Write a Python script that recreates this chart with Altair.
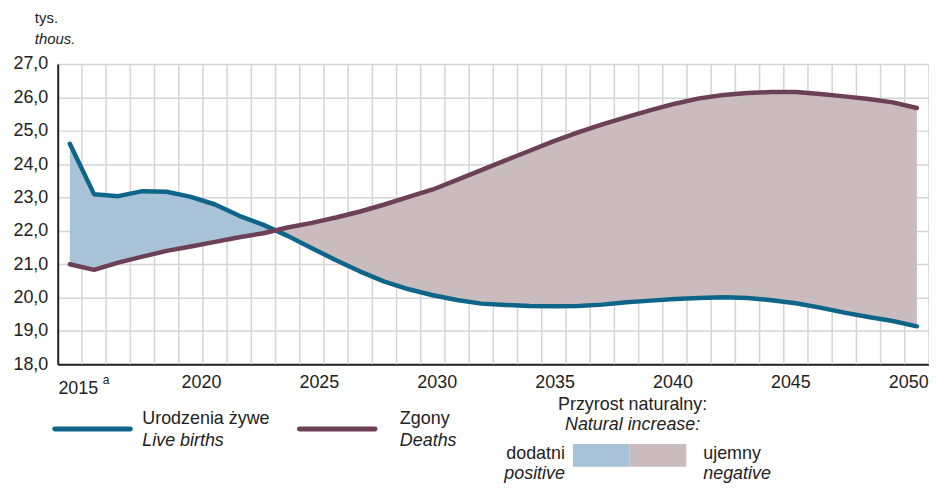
import altair as alt
import pandas as pd

FONT = "Liberation Sans"
TXT = "#222222"

# ---- data (thousands) ----
years = list(range(2015, 2051))
births = [24.61, 23.10, 23.04, 23.19, 23.17, 23.02, 22.79, 22.45, 22.18, 21.85,
          21.48, 21.12, 20.78, 20.48, 20.25, 20.07, 19.93, 19.82, 19.78, 19.75,
          19.74, 19.75, 19.79, 19.86, 19.91, 19.96, 19.99, 20.01, 19.99, 19.92,
          19.83, 19.70, 19.55, 19.42, 19.30, 19.14]
deaths = [21.00, 20.83, 21.05, 21.23, 21.40, 21.53, 21.67, 21.81, 21.93, 22.10,
          22.24, 22.40, 22.58, 22.79, 23.02, 23.24, 23.53, 23.82, 24.11, 24.40,
          24.69, 24.95, 25.19, 25.41, 25.62, 25.81, 25.97, 26.07, 26.13, 26.16,
          26.16, 26.10, 26.03, 25.95, 25.85, 25.68]
label_years = [2015, 2020, 2025, 2030, 2035, 2040, 2045, 2050]
y_ticks = [18, 19, 20, 21, 22, 23, 24, 25, 26, 27]

series_names = ["Urodzenia żywe", "Zgony"]
series_names_en = ["Live births", "Deaths"]
unit_labels = ["tys.", "thous."]
increase_title = ["Przyrost naturalny:", "Natural increase:"]
pos_labels = ["dodatni", "positive"]
neg_labels = ["ujemny", "negative"]

C_BIRTH = "#0f6589"
C_DEATH = "#6c4056"
C_POS = "#a8c3d7"
C_NEG = "#cabbbf"
C_GRID = "#d4d4d4"

# ---- build tables ----
df = pd.DataFrame({"year": years, "births": births, "deaths": deaths})
diff = [b - d for b, d in zip(births, deaths)]
k = next(i for i in range(len(diff) - 1) if diff[i] > 0 and diff[i + 1] <= 0)
t = diff[k] / (diff[k] - diff[k + 1])
cx = years[k] + t
cy = births[k] + t * (births[k + 1] - births[k])
cross = pd.DataFrame({"year": [cx], "births": [cy], "deaths": [cy]})
full = pd.concat([df, cross]).sort_values("year").reset_index(drop=True)
pos_df = full[full["year"] <= cx]
neg_df = full[full["year"] >= cx]
line_df = df.melt("year", ["births", "deaths"], var_name="s", value_name="v")

grid_df = pd.DataFrame({"b": [y + 0.5 for y in years]})
one = pd.DataFrame({"a": [0]})

xscale = alt.Scale(domain=[years[0] - 0.5, years[-1] + 0.5], nice=False, zero=False)
yscale = alt.Scale(domain=[y_ticks[0], y_ticks[-1]], nice=False, zero=False)

xaxis = alt.Axis(
    values=label_years, format="d", title=None, grid=False, ticks=False, tickSize=0,
    labelFontSize=18, labelColor=TXT, labelFont=FONT, labelFlush=False, labelOverlap=False,
    labelPadding={"condition": {"test": "datum.value == 2015", "value": 15}, "value": 9},
    labelOffset={"condition": {"test": "datum.value == 2015", "value": 8},
                 "expr": "10.2 - (datum.value - 2020) * 0.63"},
    domainColor=TXT, domainWidth=2,
)
yaxis = alt.Axis(
    values=y_ticks, title=None, grid=True, gridColor=C_GRID, gridWidth=1.5,
    ticks=False, tickSize=0, labelFontSize=18, labelColor=TXT, labelFont=FONT,
    labelPadding=10, labelExpr="replace(format(datum.value, '.1f'), '.', ',')",
    domainColor=TXT, domainWidth=2,
)


def X(field):
    return alt.X(field, type="quantitative", scale=xscale, axis=xaxis)


def Y(field):
    return alt.Y(field, type="quantitative", scale=yscale, axis=yaxis)


grid = alt.Chart(grid_df).mark_rule(color=C_GRID, strokeWidth=1.5).encode(x=X("b"))

area_pos = alt.Chart(pos_df).mark_area(color=C_POS).encode(
    x=X("year"), y=Y("births"), y2="deaths")
area_neg = alt.Chart(neg_df).mark_area(color=C_NEG).encode(
    x=X("year"), y=Y("births"), y2="deaths")

lines = alt.Chart(line_df).mark_line(
    strokeWidth=4.5, strokeCap="round", strokeJoin="round"
).encode(
    x=X("year"), y=Y("v"),
    color=alt.Color("s:N", scale=alt.Scale(domain=["births", "deaths"], range=[C_BIRTH, C_DEATH]), legend=None),
    order=alt.Order("year:Q"),
)


def txt(s, x, y, italic=False, align="left", size=18):
    return alt.Chart(one).mark_text(
        text=s, align=align, baseline="alphabetic", fontSize=size, font=FONT,
        fontStyle="italic" if italic else "normal", color=TXT,
    ).encode(x=alt.value(x), y=alt.value(y))


sup = alt.Chart(pd.DataFrame({"year": [years[0]]})).mark_text(
    text="a", align="left", baseline="alphabetic", fontSize=12, font=FONT, color=TXT, dx=33
).encode(x=X("year"), y=alt.value(321.5))

leg_line_b = alt.Chart(one).mark_rule(color=C_BIRTH, strokeWidth=5, strokeCap="round").encode(
    x=alt.value(-3), x2=alt.value(73), y=alt.value(367))
leg_line_d = alt.Chart(one).mark_rule(color=C_DEATH, strokeWidth=5, strokeCap="round").encode(
    x=alt.value(243), x2=alt.value(319), y=alt.value(367))
box_pos = alt.Chart(one).mark_rect(color=C_POS).encode(
    x=alt.value(518), x2=alt.value(575), y=alt.value(382), y2=alt.value(405))
box_neg = alt.Chart(one).mark_rect(color=C_NEG).encode(
    x=alt.value(575), x2=alt.value(632), y=alt.value(382), y2=alt.value(405))

layers = [
    grid, area_pos, area_neg, lines, sup,
    txt(unit_labels[0], -23, -41, size=15),
    txt(unit_labels[1], -23, -20.5, italic=True, size=15),
    leg_line_b, leg_line_d,
    txt(series_names[0], 85, 362), txt(series_names_en[0], 85, 384, italic=True),
    txt(series_names[1], 344, 362), txt(series_names_en[1], 344, 384, italic=True),
    txt(increase_title[0], 578, 348, align="center"),
    txt(increase_title[1], 578, 368, italic=True, align="center"),
    box_pos, box_neg,
    txt(pos_labels[0], 510, 397, align="right"), txt(pos_labels[1], 510, 417, italic=True, align="right"),
    txt(neg_labels[0], 649, 397), txt(neg_labels[1], 649, 417, italic=True),
]

chart = alt.layer(*layers).properties(
    width=876, height=302,
    autosize=alt.AutoSizeParams(type="none"),
    padding={"left": 50, "top": 55, "right": 0, "bottom": 120},
).configure_view(stroke=None).configure(font=FONT)

chart.save("out.html", embed_options={"renderer": "svg", "actions": False})
